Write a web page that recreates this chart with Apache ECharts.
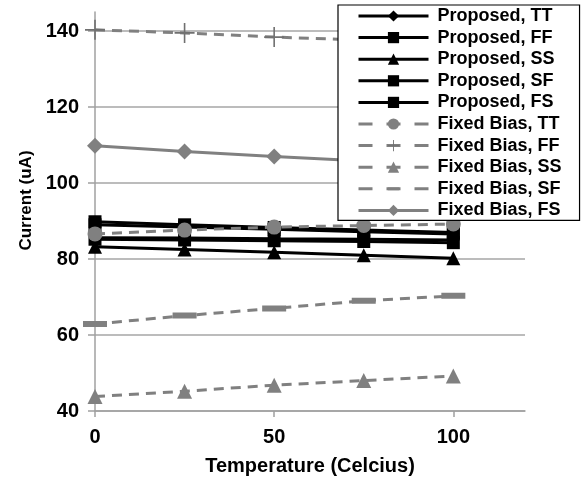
<!DOCTYPE html>
<html>
<head>
<meta charset="utf-8">
<script src="https://cdn.jsdelivr.net/npm/echarts@6/dist/echarts.min.js"></script>
<style>html,body{margin:0;padding:0;background:#fff;}#c{width:583px;height:484px;}</style>
</head>
<body>
<div id="c"></div>
<script>
const temps = [0, 25, 50, 75, 100];
const propTT = [85.6, 85.5, 85.3, 85.2, 85.0];
const propFF = [89.8, 89.0, 88.3, 87.6, 87.0];
const propSS = [83.2, 82.5, 81.8, 81.0, 80.2];
const propSF = [89.0, 88.4, 87.8, 87.2, 86.6];
const propFS = [85.2, 85.0, 84.8, 84.6, 84.3];
const fixTT = [86.6, 87.6, 88.4, 88.8, 89.2];
const fixFF = [140.3, 139.5, 138.4, 137.6, 136.8];
const fixSS = [43.8, 45.2, 46.8, 48.0, 49.2];
const fixSF = [62.9, 65.1, 67.0, 69.0, 70.3];
const fixFS = [109.8, 108.3, 107.0, 105.8, 104.5];
const yTicks = [40, 60, 80, 100, 120, 140];
const xTicks = [0, 50, 100];

const FONT = '"Liberation Sans", Arial, sans-serif';
const BLACK = '#000000';
const GRAY = '#808080';
const pair = arr => temps.map((t, i) => [t, arr[i]]);
const plusPath = 'path://M9.2,0H10.8V9.2H20V10.8H10.8V20H9.2V10.8H0V9.2H9.2Z';
// horizontal bar centred in a square box (tiny corner specks keep the box square)
const dashPath = 'path://M0,0h0.01v0.01h-0.01Z M0,9H24V15H0Z M23.99,23.99h0.01v0.01h-0.01Z';

function mk(name, arr, color, dashed, symbol, size, extra) {
  return Object.assign({
    name: name, type: 'line', data: pair(arr),
    symbol: symbol, symbolSize: size, showSymbol: true, showAllSymbol: true,
    lineStyle: { color: color, width: 3, type: dashed ? [10, 7] : 'solid' },
    itemStyle: { color: color, borderWidth: 0 },
    emphasis: { disabled: true },
    z: 2
  }, extra || {});
}

const series = [
  mk('Proposed, TT', propTT, BLACK, false, 'diamond', 9),
  mk('Proposed, FF', propFF, BLACK, false, 'rect', 13),
  mk('Proposed, SS', propSS, BLACK, false, 'triangle', 14),
  mk('Proposed, SF', propSF, BLACK, false, 'rect', 13),
  mk('Proposed, FS', propFS, BLACK, false, 'rect', 13),
  mk('Fixed Bias, TT', fixTT, GRAY, true, 'circle', 15),
  mk('Fixed Bias, FF', fixFF, '#707070', true, plusPath, 20, { lineStyle: { color: GRAY, width: 3, type: [10, 7] } }),
  mk('Fixed Bias, SS', fixSS, GRAY, true, 'triangle', 15),
  mk('Fixed Bias, SF', fixSF, GRAY, true, dashPath, 24),
  mk('Fixed Bias, FS', fixFS, GRAY, false, 'diamond', 16)
];

const dashedNames = ['Fixed Bias, TT', 'Fixed Bias, FF', 'Fixed Bias, SS', 'Fixed Bias, SF'];

const chart = echarts.init(document.getElementById('c'), null, { renderer: 'canvas' });
chart.setOption({
  animation: false,
  backgroundColor: '#ffffff',
  grid: { left: 95, right: 58, top: 12, bottom: 73, containLabel: false },
  xAxis: {
    type: 'value', min: 0, max: 120, interval: 50,
    name: 'Temperature (Celcius)', nameLocation: 'middle', nameGap: 45,
    nameTextStyle: { fontFamily: FONT, fontSize: 20, fontWeight: 'bold', color: '#000' },
    axisLine: { show: true, lineStyle: { color: '#a0a0a0', width: 1.5 } },
    axisTick: { show: true, length: 6, lineStyle: { color: '#a0a0a0', width: 1.5 } },
    axisLabel: { fontFamily: FONT, fontSize: 20, fontWeight: 'bold', color: '#000', margin: 16, showMaxLabel: false,
      formatter: v => xTicks.indexOf(v) >= 0 ? String(v) : '' },
    splitLine: { show: false }
  },
  yAxis: {
    type: 'value', min: 40, max: 145, interval: 20,
    name: 'Current (uA)', nameLocation: 'middle', nameGap: 57, nameRotate: 90,
    nameTextStyle: { fontFamily: FONT, fontSize: 17, fontWeight: 'bold', color: '#000', padding: [0, 0, 0, 22] },
    axisLine: { show: true, lineStyle: { color: '#a0a0a0', width: 1.5 } },
    axisTick: { show: true, length: 7, lineStyle: { color: '#a0a0a0', width: 1.5 } },
    axisLabel: { fontFamily: FONT, fontSize: 20, fontWeight: 'bold', color: '#000', margin: 16, showMaxLabel: false,
      formatter: v => yTicks.indexOf(v) >= 0 ? String(v) : '' },
    splitLine: { show: true, showMaxLine: false, lineStyle: { color: '#a6a6a6', width: 1.5 } }
  },
  legend: {
    orient: 'vertical', left: 338, top: 5,
    padding: [2, 18, 1, 19],
    backgroundColor: '#ffffff', borderColor: '#000000', borderWidth: 1.2,
    itemWidth: 70, itemHeight: 14, itemGap: 3.6,
    lineStyle: { width: 3 },
    textStyle: { fontFamily: FONT, fontSize: 18, fontWeight: 'bold', color: '#000', lineHeight: 18, padding: [0, 0, 0, 4] },
    selectedMode: false,
    data: series.map(s => dashedNames.indexOf(s.name) >= 0
      ? { name: s.name, lineStyle: { width: 3, type: [14, 14] } }
      : { name: s.name, lineStyle: { width: 3 } })
  },
  series: series
});
</script>
</body>
</html>
